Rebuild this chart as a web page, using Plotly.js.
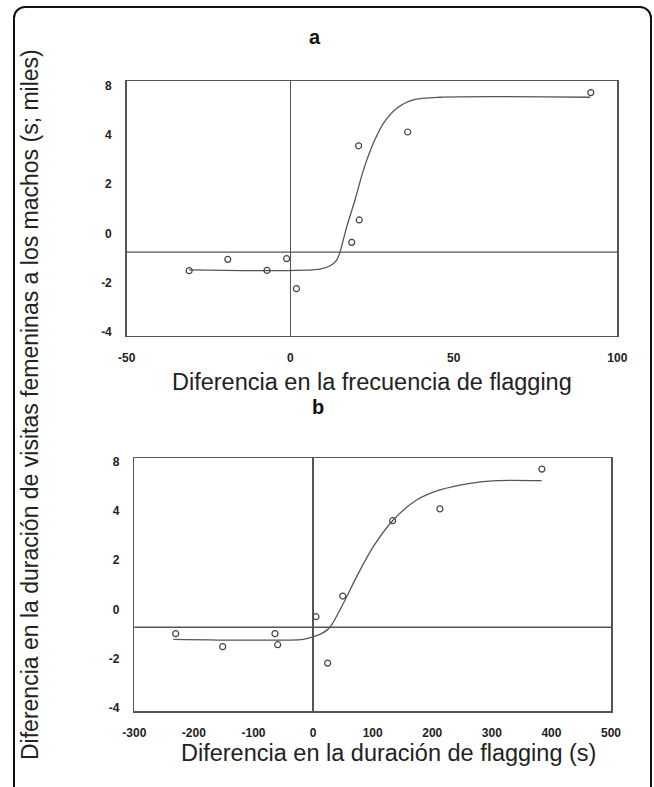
<!DOCTYPE html>
<html>
<head>
<meta charset="utf-8">
<script src="https://cdn.plot.ly/plotly-3.0.1.min.js"></script>
<style>
  html, body { margin: 0; padding: 0; background: #fff; }
  #wrap { position: relative; width: 654px; height: 787px; overflow: hidden; }
  #frame { position: absolute; left: 13px; top: 6px; width: 639px; height: 800px;
           border: 2px solid #111; border-radius: 12px; box-sizing: border-box; pointer-events: none; }
  #chart { position: absolute; left: 0; top: 0; width: 654px; height: 787px; }
</style>
</head>
<body>
<div id="wrap">
  <div id="chart"></div>
  <div id="frame"></div>
</div>
<script>
// ---- Panel a: observed points ----
const aX = [-30.9, -19.1, -7.1, -1.1, 1.9, 18.8, 21.1, 20.9, 35.9, 91.9];
const aY = [-1.51, -1.05, -1.50, -1.02, -2.24, -0.36, 0.55, 3.56, 4.12, 5.72];
// ---- Panel a: fitted curve ----
const aCurveX = [-30.9, 9.1, 12.2, 14.2, 15.2, 17.3, 19.8, 22.4, 25.4, 28.5, 32.6, 37.6, 45.8, 91.7];
const aCurveY = [-1.48, -1.45, -1.31, -1.08, -0.76, 0.28, 1.36, 2.58, 3.66, 4.47, 5.08, 5.42, 5.53, 5.53];
const aRefY = -0.76;

// ---- Panel b: observed points ----
const bX = [-230.5, -151.7, -63.9, -59.4, 4.9, 24.5, 49.7, 133.6, 212.9, 384.0];
const bY = [-0.99, -1.52, -0.99, -1.44, -0.30, -2.19, 0.54, 3.61, 4.09, 5.71];
// ---- Panel b: fitted curve ----
const bCurveX = [-234.6, -16.4, 0.3, 17.1, 28.4, 50.7, 73.2, 101.0, 134.6, 173.8, 212.9, 263.3, 308.0, 383.6];
const bCurveY = [-1.22, -1.22, -1.12, -0.95, -0.73, 0.24, 1.33, 2.55, 3.64, 4.45, 4.86, 5.13, 5.24, 5.24];
const bRefY = -0.73;

// ---- ticks ----
const yTickVals = [6, 4, 2, 0, -2, -4];
const yTickText = ["8", "4", "2", "0", "-2", "-4"];
const aXTicks = [-50, 0, 50, 100];
const bXTicks = [-300, -200, -100, 0, 100, 200, 300, 400, 500];

const titleA = "a";
const titleB = "b";
const xTitleA = "Diferencia en la frecuencia de flagging";
const xTitleB = "Diferencia en la duración de flagging (s)";
const yTitle = "Diferencia en la duración de visitas femeninas a los machos (s; miles)";

const W = 654, H = 787;
const px = v => v / W;
const py = v => 1 - v / H;

const FONT = 'Liberation Sans, Arial, sans-serif';
const lineCol = '#555';
const markerStyle = { symbol: 'circle-open', size: 6, color: '#444', line: { width: 1.2, color: '#444' } };

const traces = [
  { x: aCurveX, y: aCurveY, xaxis: 'x', yaxis: 'y', mode: 'lines',
    line: { color: '#555', width: 1.3, shape: 'spline', smoothing: 0.8 }, hoverinfo: 'skip' },
  { x: aX, y: aY, xaxis: 'x', yaxis: 'y', mode: 'markers', marker: markerStyle },
  { x: bCurveX, y: bCurveY, xaxis: 'x2', yaxis: 'y2', mode: 'lines',
    line: { color: '#555', width: 1.3, shape: 'spline', smoothing: 0.8 }, hoverinfo: 'skip' },
  { x: bX, y: bY, xaxis: 'x2', yaxis: 'y2', mode: 'markers', marker: markerStyle }
];

const tickFont = { family: FONT, size: 12, color: '#222', weight: 'bold' };

function xAx(domain, range, ticks, anchor) {
  return {
    domain: domain, range: range, tickvals: ticks, ticktext: ticks.map(String),
    anchor: anchor, showgrid: false, zeroline: true, zerolinecolor: lineCol, zerolinewidth: 1.3,
    showline: true, mirror: true, linecolor: lineCol, linewidth: 1.5,
    ticks: '', tickfont: tickFont, ticklabelstandoff: 10, fixedrange: true
  };
}
function yAx(domain, range, anchor) {
  return {
    domain: domain, range: range, tickvals: yTickVals, ticktext: yTickText,
    anchor: anchor, showgrid: false, zeroline: false,
    showline: true, mirror: true, linecolor: lineCol, linewidth: 1.5,
    ticks: '', tickfont: tickFont, ticklabelstandoff: 11, fixedrange: true
  };
}

function ann(text, x, y, size, extra) {
  return Object.assign({
    text: text, xref: 'paper', yref: 'paper', x: px(x), y: py(y),
    xanchor: 'center', yanchor: 'middle', showarrow: false,
    font: { family: FONT, size: size, color: '#222' }
  }, extra || {});
}

const layout = {
  width: W, height: H,
  margin: { l: 0, r: 0, t: 0, b: 0 },
  paper_bgcolor: '#fff', plot_bgcolor: '#fff',
  showlegend: false,
  xaxis: xAx([px(126.7), px(617.3)], [-50, 100], aXTicks, 'y'),
  yaxis: yAx([py(335.7), py(81)], [-4.15, 6.19], 'x'),
  xaxis2: xAx([px(134.3), px(611)], [-300, 500], bXTicks, 'y2'),
  yaxis2: yAx([py(711), py(458.3)], [-4.14, 6.15], 'x2'),
  shapes: [
    { type: 'line', xref: 'x domain', x0: 0, x1: 1, yref: 'y', y0: aRefY, y1: aRefY,
      line: { color: lineCol, width: 1.3 } },
    { type: 'line', xref: 'x2 domain', x0: 0, x1: 1, yref: 'y2', y0: bRefY, y1: bRefY,
      line: { color: lineCol, width: 1.3 } }
  ],
  annotations: [
    ann('<b>' + titleA + '</b>', 315, 37, 20, { font: { family: FONT, size: 20, color: '#111' } }),
    ann('<b>' + titleB + '</b>', 318, 407, 20, { font: { family: FONT, size: 20, color: '#111' } }),
    ann(xTitleA, 372, 382, 23.5),
    ann(xTitleB, 388, 753, 23.5),
    ann(yTitle, 30, 405, 23, { textangle: -90 })
  ]
};

Plotly.newPlot('chart', traces, layout, { staticPlot: true, displayModeBar: false });
</script>
</body>
</html>
